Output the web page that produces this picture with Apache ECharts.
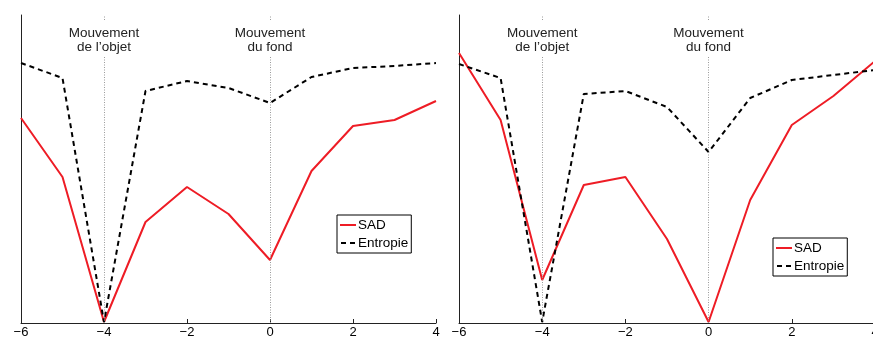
<!DOCTYPE html>
<html><head><meta charset="utf-8">
<script src="https://cdn.jsdelivr.net/npm/echarts@6/dist/echarts.min.js"></script>
<style>html,body{margin:0;padding:0;background:#fff}#c{width:873px;height:338px}</style>
</head><body><div id="c"></div>
<script>
const xs = [-6,-5,-4,-3,-2,-1,0,1,2,3,4];
const leftSAD = [205,146,1,101,136,109,63,152,197,203,222];
const leftEntropie = [260,245,1,232,242,235,220,246,255,257,260];
const rightSAD = [270,203,43,138,146,84,1,123,198,227,262];
const rightEntropie = [259,245,1,229,232,216,171,225,243,248,253];
const xTicks = [-6,-4,-2,0,2,4];
const eventX = [-4, 0];
const eventLabels = ['Mouvement\nde l\u2019objet', 'Mouvement\ndu fond'];
const yMax = 308;

const font = '"Liberation Sans", Arial, Helvetica, sans-serif';
const pairs = a => xs.map((x,i)=>[x,a[i]]);
function markers(){
  return {
    markLine: {
      silent:true, symbol:'none', label:{show:false},
      lineStyle:{color:'#9a9a9a', type:[1,1.5], width:1},
      data: eventX.flatMap(x=>[
        [{coord:[x,0]},{coord:[x,267]}],
        [{coord:[x,303]},{coord:[x,yMax]}]
      ])
    },
    markPoint: {
      silent:true, symbol:'rect', symbolSize:0,
      label:{show:true, position:'inside', color:'#222', fontFamily:font, fontSize:13.5, lineHeight:14,
        formatter:p=>p.name},
      data: eventX.map((x,i)=>({name:eventLabels[i], coord:[x,283]}))
    }
  };
}
function xAxis(gi){
  return {gridIndex:gi, type:'value', min:-6, max:4, interval:2,
    axisLine:{onZero:false, lineStyle:{color:'#222', width:1}},
    axisTick:{inside:true, length:4, lineStyle:{color:'#222'}},
    axisLabel:{color:'#000', fontFamily:font, fontSize:13, margin:3, showMinLabel:true, showMaxLabel:true,
      formatter:v=>String(v).replace('-','\u2212')},
    splitLine:{show:false}};
}
function yAxis(gi){
  return {gridIndex:gi, type:'value', min:0, max:yMax,
    axisLine:{show:true, onZero:false, lineStyle:{color:'#222', width:1}},
    axisTick:{show:false}, axisLabel:{show:false}, splitLine:{show:false}};
}
function sad(gi, data, withMarks){
  return Object.assign({name:'SAD', type:'line', xAxisIndex:gi, yAxisIndex:gi, data:pairs(data),
    symbol:'none', lineStyle:{color:'#ee1c25', width:2}, itemStyle:{color:'#ee1c25'}, z:3, animation:false},
    withMarks?markers():{});
}
function ent(gi, data){
  return {name:'Entropie', type:'line', xAxisIndex:gi, yAxisIndex:gi, data:pairs(data),
    symbol:'none', lineStyle:{color:'#000', width:2, type:[5,4]}, itemStyle:{color:'#000'}, z:4, animation:false};
}
function legend(left, top){
  return {left, top, orient:'vertical',
    data:[{name:'SAD', icon:'path://M0,0h16v2h-16z', itemStyle:{color:'#ee1c25'}},
          {name:'Entropie', icon:'path://M0,0h5v2h-5zM9,0h5v2h-5z', itemStyle:{color:'#000'}}],
    backgroundColor:'#fff', borderColor:'#000', borderWidth:1, borderRadius:0, padding:[3,3,3,3],
    itemWidth:16, itemHeight:2, itemGap:4,
    textStyle:{fontFamily:font, fontSize:13.5, color:'#000', padding:[0,0,0,-3]},
    selectedMode:false};
}
const chart = echarts.init(document.getElementById('c'), null, {renderer:'canvas'});
chart.setOption({
  animation:false,
  grid:[{left:21, top:15, width:415, height:308, outerBoundsMode:'none'},
        {left:459, top:15, width:416, height:308, outerBoundsMode:'none'}],
  xAxis:[xAxis(0), xAxis(1)],
  yAxis:[yAxis(0), yAxis(1)],
  legend:[legend(337,215), legend(773,238)],
  series:[sad(0,leftSAD,true), ent(0,leftEntropie), sad(1,rightSAD,true), ent(1,rightEntropie)]
});
</script></body></html>
